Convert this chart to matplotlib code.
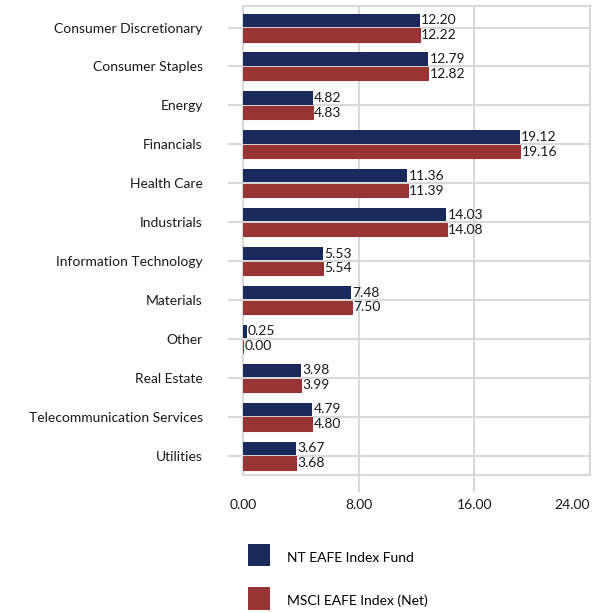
import numpy as np
import matplotlib.pyplot as plt
from matplotlib.patches import Patch

# sector weights (%)
sectors = ["Consumer Discretionary", "Consumer Staples", "Energy", "Financials",
           "Health Care", "Industrials", "Information Technology", "Materials",
           "Other", "Real Estate", "Telecommunication Services", "Utilities"]
fund = [12.20, 12.79, 4.82, 19.12, 11.36, 14.03, 5.53, 7.48, 0.25, 3.98, 4.79, 3.67]
index = [12.22, 12.82, 4.83, 19.16, 11.39, 14.08, 5.54, 7.50, 0.00, 3.99, 4.80, 3.68]
xticks = [0, 8, 16, 24]
series_names = ["NT EAFE Index Fund", "MSCI EAFE Index (Net)"]

navy = "#1b2a5c"
red = "#973535"
grid = "#d9d9d9"

plt.rcParams['font.family'] = ['Lato', 'DejaVu Sans']
plt.rcParams['font.size'] = 10

fig = plt.figure(figsize=(6.06, 6.13), dpi=100)
ax = fig.add_axes([0.401, 0.225, 0.573, 0.765])

y = np.arange(len(sectors))
h = 0.34
b1 = ax.barh(y - h / 2 - 0.02, fund, height=h, color=navy, zorder=3)
b2 = ax.barh(y + h / 2 + 0.02, index, height=h, color=red, zorder=3,
             edgecolor=red, linewidth=0.8)
ax.bar_label(b1, fmt="%.2f", padding=1, fontsize=10, color="#1a1a1a")
ax.bar_label(b2, fmt="%.2f", padding=1, fontsize=10, color="#1a1a1a")

ax.set_ylim(len(sectors) - 0.5, -0.55)
ax.set_xlim(0, 24)
ax.set_xticks(xticks)
ax.set_xticklabels([f"{v:.2f}" for v in xticks])
ax.set_yticks(y)
ax.set_yticklabels(sectors)

ax.grid(True, color=grid, linewidth=1.5, zorder=0)
for s in ax.spines.values():
    s.set_color(grid)
    s.set_linewidth(1.5)

ax.tick_params(axis='y', length=11, width=1.5, color=grid, pad=18, labelcolor="#1a1a1a")
ax.tick_params(axis='x', length=12, width=1.5, color=grid, pad=5, labelcolor="#1a1a1a")
xt = ax.xaxis.get_major_ticks()
xt[0].tick1line.set_visible(False)
xt[-1].tick1line.set_visible(False)
# last tick label kept inside the figure, as in the original
xt[-1].label1.set_horizontalalignment('right')
xt[-1].label1.set_x(24.3)

handles = [Patch(facecolor=navy), Patch(facecolor=red)]
fig.legend(handles, series_names, loc="upper left", bbox_to_anchor=(0.409, 0.105),
           frameon=False, handlelength=1.6, handleheight=1.6, handletextpad=1.25,
           labelspacing=1.82, borderaxespad=0, borderpad=0, fontsize=10)
for p in fig.legends[0].get_patches():
    p.set_height(p.get_width())

fig.savefig("out.png", dpi=100)
